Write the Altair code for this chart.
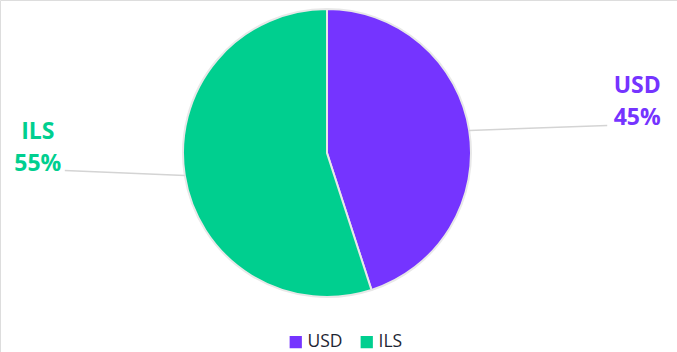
import altair as alt
import pandas as pd

currencies = ["USD", "ILS"]
shares = [45, 55]
colors = ["#7534FF", "#00CF8F"]

df = pd.DataFrame({"currency": currencies, "share": shares})

CX, CY, R = 327, 153, 144
FONT = "Open Sans"

color_scale = alt.Scale(domain=currencies, range=colors)

base = alt.Chart(df).transform_window(
    idx="row_number()"
).transform_joinaggregate(
    total="sum(share)"
).transform_window(
    cum="sum(share)", sort=[alt.SortField("idx")]
).transform_calculate(
    mid="(datum.cum - datum.share/2) / datum.total * 2 * PI",
    pct="format(datum.share / datum.total, '.0%')",
).transform_calculate(
    side="sin(datum.mid) >= 0 ? 1 : -1",
    sx=f"{CX} + {R} * sin(datum.mid)",
    sy=f"{CY} - {R} * cos(datum.mid)",
).transform_calculate(
    ex="datum.sx + datum.side * (datum.side > 0 ? 138 : 120)",
    ey="datum.sy - 5",
).transform_calculate(
    lx="datum.ex + datum.side * (datum.side > 0 ? 30 : 27)",
)

arcs = base.mark_arc(outerRadius=R, stroke="#e8e8e8", strokeWidth=2).encode(
    theta=alt.Theta("share:Q", stack=True),
    order=alt.Order("idx:Q"),
    color=alt.Color(
        "currency:N",
        scale=color_scale,
        title=None,
        legend=alt.Legend(
            orient="none",
            legendX=287,
            legendY=333,
            direction="horizontal",
            symbolType="square",
            symbolSize=150,
            symbolStrokeWidth=0,
            labelFont=FONT,
            labelFontSize=17.5,
            labelColor="#1e2533",
            labelOffset=3,
            columnPadding=15,
        ),
    ),
    x=alt.value(CX),
    y=alt.value(CY),
)

leaders = base.mark_rule(color="#d4d4d4", strokeWidth=1.5).encode(
    x=alt.X("sx:Q", scale=None),
    y=alt.Y("sy:Q", scale=None),
    x2="ex:Q",
    y2="ey:Q",
)

names = base.mark_text(
    font=FONT, fontSize=23, fontWeight="bold", align="center", baseline="alphabetic"
).encode(
    x=alt.X("lx:Q", scale=None),
    y=alt.Y("ny:Q", scale=None),
    text="currency:N",
    color=alt.Color("currency:N", scale=color_scale, legend=None),
).transform_calculate(ny="datum.ey - 32")

pcts = base.mark_text(
    font=FONT, fontSize=23, fontWeight="bold", align="center", baseline="alphabetic"
).encode(
    x=alt.X("lx:Q", scale=None),
    y=alt.Y("ey:Q", scale=None),
    text="pct:N",
    color=alt.Color("currency:N", scale=color_scale, legend=None),
)

chart = alt.layer(arcs, leaders, names, pcts).resolve_legend(
    color="independent"
).properties(
    width=677, height=352, autosize="none", padding=0
).configure_view(stroke=None).configure(background="white")

chart.save("out.html", embed_options={"renderer": "svg", "actions": False})
